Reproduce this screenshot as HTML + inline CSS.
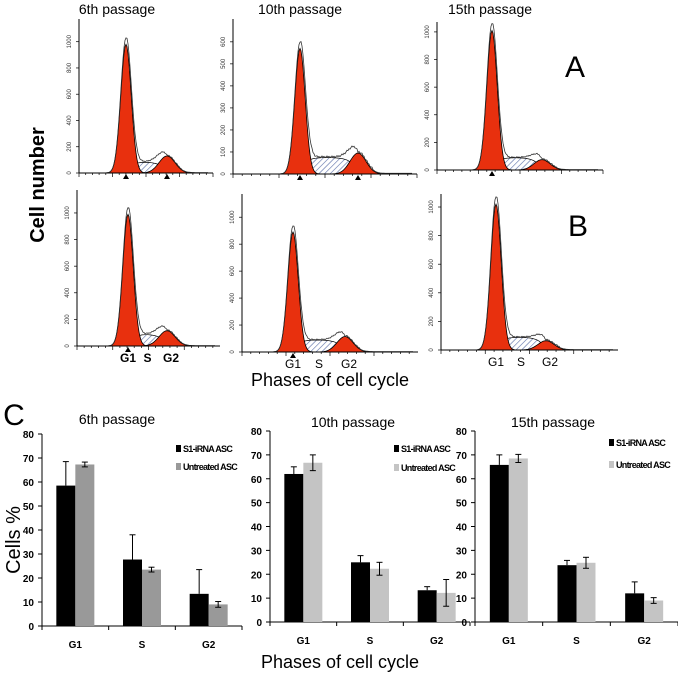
<!DOCTYPE html>
<html><head><meta charset="utf-8"><style>
body{margin:0;background:#fff;font-family:"Liberation Sans",sans-serif}
svg{display:block}
</style></head><body>
<svg id="fig" width="678" height="676" viewBox="0 0 678 676" xmlns="http://www.w3.org/2000/svg">
<defs>
<pattern id="hatch" width="4" height="4" patternUnits="userSpaceOnUse" patternTransform="rotate(45)">
<rect width="4" height="4" fill="#fff"/><line x1="0" y1="0" x2="0" y2="4" stroke="#5a6fa8" stroke-width="1.2"/>
</pattern>
</defs>
<g font-size="14" text-anchor="middle" fill="#000">
<text x="117" y="14">6th passage</text>
<text x="300" y="14">10th passage</text>
<text x="490" y="14">15th passage</text>
</g>
<text x="575" y="77" font-size="30" text-anchor="middle">A</text>
<text x="578" y="236" font-size="30" text-anchor="middle">B</text>
<text x="14" y="425" font-size="30" text-anchor="middle">C</text>
<text transform="translate(44,185) rotate(-90)" font-size="20" font-weight="bold" text-anchor="middle">Cell number</text>
<text x="330" y="386" font-size="18" text-anchor="middle">Phases of cell cycle</text>
<text transform="translate(20,540) rotate(-90)" font-size="20" text-anchor="middle">Cells %</text>
<text x="340" y="668" font-size="18" text-anchor="middle">Phases of cell cycle</text>
<g id="hists"></g>
<g id="bars"></g>
</svg>
<script>
// Histogram panel parameters (G1 peak height, G2 peak height in counts)
const histIds = ['a-6th','a-10th','a-15th','b-6th','b-10th','b-15th'];
const histG1 = [980, 570, 1010, 990, 890, 1020];
const histG2 = [130, 95, 75, 115, 115, 65];
const histS = [85, 75, 90, 90, 90, 90];
const histMax = [1150, 690, 1050, 1150, 1150, 1070];
const histTicks = [[0,200,400,600,800,1000],[0,100,200,300,400,500,600],[0,200,400,600,800,1000],[0,200,400,600,800,1000],[0,200,400,600,800,1000],[0,200,400,600,800,1000]];
// geometry of panels
const geo = [
 {ax:79,base:173,top:22,end:213,g1:126,g2:167},
 {ax:233,base:174,top:22,end:417,g1:300,g2:358},
 {ax:437,base:170,top:25,end:603,g1:492,g2:542},
 {ax:77,base:346,top:193,end:220,g1:128,g2:167},
 {ax:242,base:352,top:197,end:418,g1:293,g2:345},
 {ax:441,base:350,top:197,end:618,g1:496,g2:546}];
const NS='http://www.w3.org/2000/svg';
function mk(t,a,p){const e=document.createElementNS(NS,t);for(const k in a)e.setAttribute(k,a[k]);p.appendChild(e);return e;}
const H=document.getElementById('hists');
histIds.forEach((id,i)=>{
 const g=geo[i];const grp=mk('g',{},H);
 
 
 const ys=v=>g.base-(v/histMax[i])*(g.base-g.top);
 const sg=5.2, sg2=8;
 const gauss=(x,c,s,h)=>h*Math.exp(-((x-c)*(x-c))/(2*s*s));
 const sFn=x=>(x>g.g1&&x<g.g2)?histS[i]*(1-Math.exp(-(x-g.g1)/5))*(1-Math.exp(-(g.g2-x)/6)):0;
 let pS='',pG1='',pG2='',pOut='';
 for(let x=g.g1-20;x<=g.end-5;x+=1){
  const v1=gauss(x,g.g1,sg,histG1[i]),v2=gauss(x,g.g2,sg2,histG2[i]),vs=sFn(x);
  pG1+=(pG1?'L':'M')+x+','+ys(v1).toFixed(1);
  pG2+=(pG2?'L':'M')+x+','+ys(v2).toFixed(1);
  pS+=(pS?'L':'M')+x+','+ys(vs).toFixed(1);
  const noise=(x>g.g1+8&&x<g.g2+15)?((x*7)%5)*2:0;
  pOut+=(pOut?'L':'M')+x+','+ys(v1*1.05+v2+vs+noise+(x>g.g2?3:0)).toFixed(1);
 }
 const s=mk('path',{d:pS+'L'+(g.end-5)+','+g.base+'L'+(g.g1-20)+','+g.base+'Z',fill:'url(#hatch)',stroke:'#000','stroke-width':0.7},grp);
 
 
 const r1=mk('path',{d:pG1+'Z',fill:'#e8300e',stroke:'#000','stroke-width':0.8},grp);
 
 
 const r2=mk('path',{d:pG2+'Z',fill:'#e8300e',stroke:'#000','stroke-width':0.8},grp);
 
 
 const o=mk('path',{d:pOut,fill:'none',stroke:'#333','stroke-width':0.8},grp);
 
 
 mk('line',{x1:g.ax,y1:g.top-3,x2:g.ax,y2:g.base,stroke:'#000','stroke-width':1},grp);
 mk('line',{x1:g.ax,y1:g.base,x2:g.end,y2:g.base,stroke:'#000','stroke-width':1},grp);
 for(let x=g.ax;x<=g.end;x+=(g.end-g.ax)/20){mk('line',{x1:x,y1:g.base,x2:x,y2:g.base+(Math.round((x-g.ax)/((g.end-g.ax)/20))%5==0?4:2),stroke:'#000','stroke-width':0.7},grp);}
 histTicks[i].forEach(t=>{const y=ys(t);mk('line',{x1:g.ax-3,y1:y,x2:g.ax,y2:y,stroke:'#000','stroke-width':0.7},grp);
  const tx=mk('text',{transform:`translate(${g.ax-8},${y}) rotate(-90)`,'font-size':6,'text-anchor':'middle',fill:'#333'},grp);tx.textContent=t;});
 if(i<3||i==3||i==4){[g.g1, i<3&&i!=2?g.g2:null].forEach(px=>{if(px)mk('path',{d:`M${px-3},${g.base+6}L${px+3},${g.base+6}L${px},${g.base+1}Z`,fill:'#000'},grp);});}
 if(i>=3){const lab=[['G1',g.g1],['S',(g.g1+g.g2)/2],['G2',g.g2+4]];
  lab.forEach(l=>{const t=mk('text',{x:l[1],y:g.base+16,'font-size':12,'text-anchor':'middle','font-weight':i==3?'bold':'normal'},grp);t.textContent=l[0];
   
   });}
});

// Bar charts
const categories = ['G1','S','G2'];
const titles = ['6th passage','10th passage','15th passage'];
const siRNA = [[58.5,27.7,13.4],[62,25,13.3],[65.8,23.8,12]];
const siRNAErr = [[10,10.3,10.1],[3,2.8,1.5],[4.2,2,4.8]];
const untreated = [[67.3,23.5,9],[66.7,22.3,12.2],[68.5,24.8,9]];
const untreatedErr = [[1,1,1.2],[3.3,2.7,5.6],[1.7,2.3,1.2]];
const yTicks = [0,10,20,30,40,50,60,70,80];
const legendLabels = ['S1-iRNA ASC','Untreated ASC'];
const grayCols=['#999','#c4c4c4','#c4c4c4'];
const bgeo=[{ax:42,y0:626,y80:434,end:242,lx:176,ly:[452,470],tx:117,ty:424},
 {ax:270,y0:622,y80:431,end:470,lx:394,ly:[452,471],tx:353,ty:427},
 {ax:475,y0:622,y80:431,end:678,lx:609,ly:[446,468],tx:553,ty:427}];
const B=document.getElementById('bars');
titles.forEach((ttl,c)=>{
 const g=bgeo[c];const grp=mk('g',{},B);
 
 
 const ys=v=>g.y0-v/80*(g.y0-g.y80);
 const band=(g.end-g.ax)/3;
 const xc=k=>g.ax+band*(k+0.5);
 const t=mk('text',{x:g.tx,y:g.ty,'font-size':14,'text-anchor':'middle'},grp);t.textContent=ttl;
 
 
 mk('line',{x1:g.ax,y1:g.y80,x2:g.ax,y2:g.y0,stroke:'#000','stroke-width':1},grp);
 mk('line',{x1:g.ax,y1:g.y0,x2:g.end,y2:g.y0,stroke:'#000','stroke-width':1},grp);
 for(let k=0;k<=3;k++)mk('line',{x1:g.ax+band*k,y1:g.y0,x2:g.ax+band*k,y2:g.y0+4,stroke:'#000'},grp);
 yTicks.forEach(v=>{mk('line',{x1:g.ax-4,y1:ys(v),x2:g.ax,y2:ys(v),stroke:'#000'},grp);
  const tt=mk('text',{x:g.ax-8,y:ys(v)+4,'font-size':10,'font-weight':'bold','text-anchor':'end'},grp);tt.textContent=v;});
 categories.forEach((cat,k)=>{
  const bw=19;
  [[siRNA,siRNAErr,'#000',-bw],[untreated,untreatedErr,grayCols[c],0]].forEach((s,j)=>{
   const v=s[0][c][k],e=s[1][c][k],x=xc(k)+s[3];
   const r=mk('rect',{x:x,y:ys(v),width:bw,height:g.y0-ys(v),fill:s[2]},grp);
   
   
   const ex=x+bw/2;
   mk('line',{x1:ex,y1:ys(v+e),x2:ex,y2:ys(j?v-e:v),stroke:'#000','stroke-width':1},grp);
   mk('line',{x1:ex-3,y1:ys(v+e),x2:ex+3,y2:ys(v+e),stroke:'#000'},grp);
   if(j)mk('line',{x1:ex-3,y1:ys(v-e),x2:ex+3,y2:ys(v-e),stroke:'#000'},grp);
  });
  const lt=mk('text',{x:xc(k),y:g.y0+22,'font-size':10,'font-weight':'bold','text-anchor':'middle'},grp);lt.textContent=cat;
  
  
 });
 legendLabels.forEach((l,j)=>{
  mk('rect',{x:g.lx,y:g.ly[j]-7,width:5,height:7,fill:j?grayCols[c]:'#000'},grp);
  const lt=mk('text',{x:g.lx+7,y:g.ly[j],'font-size':9,'font-weight':'bold','letter-spacing':'-0.7'},grp);lt.textContent=l;
  
  
 });
});
</script>
</body></html>
